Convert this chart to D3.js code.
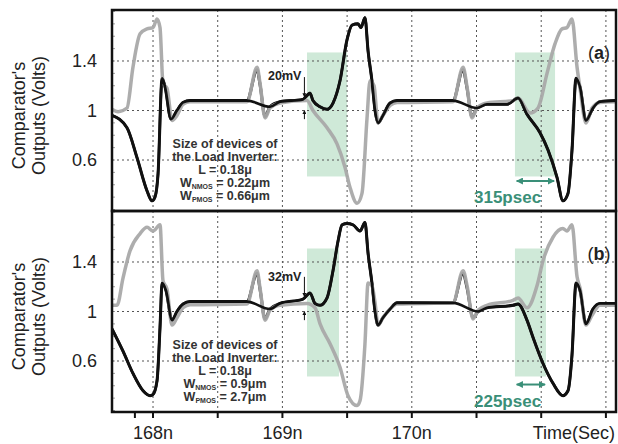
<!DOCTYPE html>
<html>
<head>
<meta charset="utf-8">
<script src="https://cdn.jsdelivr.net/npm/d3@7/dist/d3.min.js"></script>
<style>
  body { margin: 0; background: #fff; }
  svg { font-family: "Liberation Sans", Arial, sans-serif; }
</style>
</head>
<body>
<svg id="chart"></svg>
<script>
// ---- data (time in ns, voltage in V) ----
const timeLabels = [[168, "168n"], [169, "169n"], [170, "170n"]];
const gridTimes = [168, 168.5, 169, 169.5, 170, 170.5, 171, 171.5];
const tickTimes = [167.86, 168, 168.5, 169, 169.5, 170, 170.5, 171, 171.5];
const voltTicks = [1.4, 1, 0.6];

const grayA = [[167.683,1.01],[167.730,0.99],[167.799,1.02],[167.845,1.35],[167.900,1.62],[167.954,1.66],[168.000,1.67],[168.031,1.74],[168.054,1.67],[168.077,1.22],[168.108,1.18],[168.147,0.92],[168.185,0.96],[168.232,1.05],[168.286,1.07],[168.726,1.07],[168.804,1.35],[168.827,1.22],[168.866,0.94],[168.904,1.02],[168.981,1.06],[169.190,1.08],[169.236,1.0],[169.345,0.86],[169.422,0.73],[169.484,0.54],[169.522,0.38],[169.577,0.25],[169.615,0.33],[169.654,0.94],[169.677,1.24],[169.708,1.20],[169.739,0.90],[169.777,0.96],[169.832,1.04],[169.886,1.065],[170.318,1.07],[170.396,1.35],[170.427,1.19],[170.465,0.94],[170.504,1.02],[170.581,1.06],[170.782,1.08],[170.821,1.10],[170.913,0.98],[170.975,1.02],[171.045,1.30],[171.107,1.54],[171.161,1.66],[171.199,1.67],[171.238,1.74],[171.277,1.35],[171.300,1.18],[171.346,0.90],[171.393,1.02],[171.454,1.065],[171.578,1.07]];
const blackA = [[167.683,0.96],[167.799,0.86],[167.876,0.62],[167.954,0.35],[167.992,0.27],[168.015,0.30],[168.039,0.49],[168.070,1.26],[168.093,1.19],[168.139,0.93],[168.185,1.0],[168.232,1.065],[168.286,1.08],[168.726,1.08],[168.804,1.33],[168.827,1.21],[168.866,0.95],[168.904,1.03],[168.981,1.07],[169.159,1.09],[169.213,1.14],[169.236,1.08],[169.291,1.03],[169.345,1.01],[169.391,1.06],[169.445,1.24],[169.499,1.57],[169.538,1.69],[169.584,1.70],[169.607,1.67],[169.638,1.75],[169.662,1.48],[169.692,1.24],[169.716,1.0],[169.739,0.90],[169.777,0.96],[169.832,1.06],[169.886,1.08],[170.318,1.08],[170.396,1.33],[170.427,1.18],[170.465,0.95],[170.504,1.02],[170.581,1.05],[170.736,1.05],[170.821,1.10],[170.890,0.97],[170.991,0.82],[171.053,0.68],[171.122,0.46],[171.168,0.27],[171.207,0.33],[171.238,0.68],[171.269,1.26],[171.300,1.19],[171.346,0.92],[171.400,1.02],[171.454,1.07],[171.578,1.08]];
const grayB = [[167.683,1.05],[167.722,1.05],[167.768,1.27],[167.822,1.49],[167.900,1.63],[167.954,1.68],[168.000,1.65],[168.054,1.70],[168.077,1.25],[168.108,1.18],[168.147,0.89],[168.185,0.95],[168.232,1.03],[168.286,1.055],[168.726,1.06],[168.804,1.33],[168.827,1.19],[168.866,0.93],[168.904,1.01],[168.981,1.05],[169.190,1.065],[169.252,1.03],[169.291,0.90],[169.368,0.74],[169.445,0.55],[169.507,0.32],[169.577,0.24],[169.600,0.28],[169.638,0.74],[169.662,1.23],[169.692,1.21],[169.716,1.07],[169.739,0.89],[169.777,0.95],[169.832,1.02],[169.886,1.06],[170.318,1.07],[170.396,1.33],[170.427,1.21],[170.473,0.94],[170.512,1.01],[170.581,1.05],[170.782,1.09],[170.821,1.11],[170.890,1.03],[170.968,1.21],[171.014,1.41],[171.091,1.60],[171.168,1.67],[171.199,1.65],[171.238,1.70],[171.277,1.28],[171.300,1.19],[171.346,0.89],[171.393,0.97],[171.454,1.05],[171.578,1.05]];
const blackB = [[167.683,0.86],[167.768,0.68],[167.845,0.50],[167.923,0.36],[167.977,0.32],[168.000,0.33],[168.031,0.44],[168.054,0.87],[168.070,1.23],[168.100,1.17],[168.147,0.93],[168.185,1.0],[168.232,1.06],[168.286,1.08],[168.726,1.08],[168.804,1.31],[168.827,1.18],[168.866,0.94],[168.904,1.02],[168.981,1.065],[169.159,1.10],[169.213,1.15],[169.252,1.065],[169.291,1.05],[169.345,1.11],[169.391,1.33],[169.430,1.57],[169.461,1.70],[169.499,1.71],[169.546,1.70],[169.600,1.65],[169.638,1.72],[169.662,1.47],[169.692,1.23],[169.716,1.0],[169.739,0.89],[169.777,0.95],[169.832,1.02],[169.886,1.07],[170.318,1.07],[170.396,1.31],[170.427,1.19],[170.473,0.95],[170.512,1.0],[170.581,1.03],[170.782,1.05],[170.821,1.06],[170.890,0.93],[170.937,0.79],[171.014,0.58],[171.091,0.42],[171.168,0.32],[171.207,0.36],[171.238,0.65],[171.269,1.23],[171.300,1.17],[171.346,0.90],[171.400,1.02],[171.454,1.065],[171.578,1.065]];

const panels = [
  { id: "a", gray: grayA, black: blackA, top: 10, mv: "20mV", mvPeak: 1.14, ps: "315psec",
    boxes: [[169.19, 169.50, 0.467, 1.469], [170.797, 171.107, 0.467, 1.469]], psArrow: [170.81, 171.10, 0.43],
    sizes: ["L = 0.18\u03bc", ["0.22\u03bcm", "0.66\u03bcm"]] },
  { id: "b", gray: grayB, black: blackB, top: 211, mv: "32mV", mvPeak: 1.15, ps: "225psec",
    boxes: [[169.19, 169.437, 0.475, 1.509], [170.797, 171.037, 0.475, 1.509]], psArrow: [170.81, 171.03, 0.41],
    sizes: ["L = 0.18\u03bc", ["0.9\u03bcm", "2.7\u03bcm"]] }
];

// ---- layout ----
const W = 618, H = 444;
const left = 112, right = 616, panelH = 201;
const svg = d3.select("#chart").attr("width", W).attr("height", H);

const x = d3.scaleLinear().domain([167.683, 171.578]).range([left, right]);

const defs = svg.append("defs");
defs.append("marker").attr("id", "ah").attr("viewBox", "0 0 10 10").attr("refX", 9).attr("refY", 5)
  .attr("markerWidth", 4).attr("markerHeight", 4).attr("orient", "auto-start-reverse")
  .append("path").attr("d", "M0,0L10,5L0,10z").attr("fill", "#111");
defs.append("marker").attr("id", "ahTeal").attr("viewBox", "0 0 10 10").attr("refX", 9).attr("refY", 5)
  .attr("markerWidth", 3.5).attr("markerHeight", 3.5).attr("orient", "auto-start-reverse")
  .append("path").attr("d", "M0,0L10,5L0,10z").attr("fill", "#3a8f78");

const teal = "#3a8f78";

panels.forEach(p => {
  const y = d3.scaleLinear().domain([0.188, 1.812]).range([p.top + panelH, p.top]);
  const g = svg.append("g");

  defs.append("clipPath").attr("id", "clip" + p.id)
    .append("rect").attr("x", left).attr("y", p.top).attr("width", right - left).attr("height", panelH);

  // shaded decision windows
  g.selectAll(".box").data(p.boxes).join("rect")
    .attr("x", d => x(d[0])).attr("width", d => x(d[1]) - x(d[0]))
    .attr("y", d => y(d[3])).attr("height", d => y(d[2]) - y(d[3]))
    .attr("fill", "#cfe9d8");

  // dotted grid
  g.selectAll(".vg").data(gridTimes).join("line")
    .attr("x1", d => x(d)).attr("x2", d => x(d)).attr("y1", p.top).attr("y2", p.top + panelH)
    .attr("stroke", "#555").attr("stroke-width", 1).attr("stroke-dasharray", "2,3");
  g.selectAll(".hg").data(voltTicks).join("line")
    .attr("x1", left).attr("x2", right).attr("y1", d => y(d)).attr("y2", d => y(d))
    .attr("stroke", "#555").attr("stroke-width", 1).attr("stroke-dasharray", "2,3");

  // minor ticks on the left edge
  g.selectAll(".mt").data(d3.range(0.2, 1.81, 0.1)).join("line")
    .attr("x1", left).attr("x2", left + 3).attr("y1", d => y(d)).attr("y2", d => y(d))
    .attr("stroke", "#888").attr("stroke-width", 0.8);

  // curves
  const line = d3.line().x(d => x(d[0])).y(d => y(d[1])).curve(d3.curveMonotoneX);
  const cg = g.append("g").attr("clip-path", `url(#clip${p.id})`);
  cg.append("path").datum(p.black).attr("d", line)
    .attr("fill", "none").attr("stroke", "#111").attr("stroke-width", 3).attr("stroke-linejoin", "round");
  cg.append("path").datum(p.gray).attr("d", line)
    .attr("fill", "none").attr("stroke", "#a9a9a9").attr("stroke-width", 3.5).attr("stroke-linejoin", "round")
    .attr("opacity", 0.95);
  // black on top inside the flat stretches
  cg.append("path").datum(p.black.filter(d => d[0] < 168.75 || (d[0] > 168.9 && d[0] < 170.35) || d[0] > 170.5)).attr("d", line)
    .attr("fill", "none").attr("stroke", "#111").attr("stroke-width", 2.6).attr("stroke-linejoin", "round");

  // frame
  g.append("rect").attr("x", left).attr("y", p.top).attr("width", right - left).attr("height", panelH)
    .attr("fill", "none").attr("stroke", "#111").attr("stroke-width", 2.5);

  // y tick labels
  g.selectAll(".yl").data(voltTicks).join("text")
    .attr("x", 97).attr("y", d => y(d)).attr("dy", "0.35em").attr("text-anchor", "end")
    .attr("font-size", 18).attr("fill", "#222").text(d => d);

  // y title
  const cy = y(0.96);
  g.append("text").attr("transform", `translate(25,${cy}) rotate(-90)`).attr("text-anchor", "middle")
    .attr("font-size", 18).attr("fill", "#222").text("Comparator's");
  g.append("text").attr("transform", `translate(45,${cy}) rotate(-90)`).attr("text-anchor", "middle")
    .attr("font-size", 18).attr("fill", "#222").text("Outputs (Volts)");

  // panel tag
  const tag = g.append("text").attr("x", 599).attr("y", y(1.42)).attr("text-anchor", "middle")
    .attr("font-size", 18).attr("fill", "#222");
  tag.append("tspan").text("(");
  tag.append("tspan").attr("font-weight", "bold").text(p.id);
  tag.append("tspan").text(")");

  // mV annotation with arrows
  const ax = x(169.17);
  g.append("text").attr("x", ax - 3).attr("y", y(1.25)).attr("text-anchor", "end")
    .attr("font-size", 12.5).attr("font-weight", "bold").attr("fill", "#222").text(p.mv);
  g.append("line").attr("x1", ax).attr("x2", ax).attr("y1", y(p.mvPeak + 0.13)).attr("y2", y(p.mvPeak - 0.03))
    .attr("stroke", "#111").attr("stroke-width", 1).attr("marker-end", "url(#ah)");
  g.append("line").attr("x1", ax).attr("x2", ax).attr("y1", y(0.93)).attr("y2", y(1.0))
    .attr("stroke", "#111").attr("stroke-width", 1).attr("marker-end", "url(#ah)");

  // psec arrow
  const pa = p.psArrow;
  g.append("line").attr("x1", x(pa[0])).attr("x2", x(pa[1])).attr("y1", y(pa[2])).attr("y2", y(pa[2]))
    .attr("stroke", teal).attr("stroke-width", 2)
    .attr("marker-start", "url(#ahTeal)").attr("marker-end", "url(#ahTeal)");
  g.append("text").attr("x", x(170.74)).attr("y", y(pa[2] - 0.18)).attr("text-anchor", "middle")
    .attr("font-size", 17).attr("font-weight", "bold").attr("fill", teal).text(p.ps);

  // device size text block
  const tb = g.append("text").attr("text-anchor", "middle").attr("font-size", 12.5)
    .attr("font-weight", "bold").attr("fill", "#333");
  const tx = 225, ty = p.top + 138;
  tb.append("tspan").attr("x", tx).attr("y", ty).text("Size of devices of");
  tb.append("tspan").attr("x", tx).attr("y", ty + 13).text("the Load Inverter:");
  tb.append("tspan").attr("x", tx).attr("y", ty + 26).text(p.sizes[0]);
  [["NMOS", p.sizes[1][0]], ["PMOS", p.sizes[1][1]]].forEach((s, i) => {
    const t = g.append("text").attr("x", tx).attr("y", ty + 39 + 13 * i).attr("text-anchor", "middle")
      .attr("font-size", 12.5).attr("font-weight", "bold").attr("fill", "#333");
    t.append("tspan").text("W");
    t.append("tspan").attr("font-size", 7).attr("dy", 2).text(s[0]);
    t.append("tspan").attr("dy", -2).text(" = " + s[1]);
  });
});

// bottom time axis
const bottom = 211 + panelH;
svg.selectAll(".bt").data(tickTimes).join("line")
  .attr("x1", d => x(d)).attr("x2", d => x(d)).attr("y1", bottom).attr("y2", bottom + 6)
  .attr("stroke", "#111").attr("stroke-width", 2);
svg.selectAll(".bl").data(timeLabels).join("text")
  .attr("x", d => x(d[0])).attr("y", 439).attr("text-anchor", "middle")
  .attr("font-size", 18).attr("fill", "#222").text(d => d[1]);
svg.append("text").attr("x", 615).attr("y", 439).attr("text-anchor", "end")
  .attr("font-size", 18).attr("fill", "#222").text("Time(Sec)");
</script>
</body>
</html>
